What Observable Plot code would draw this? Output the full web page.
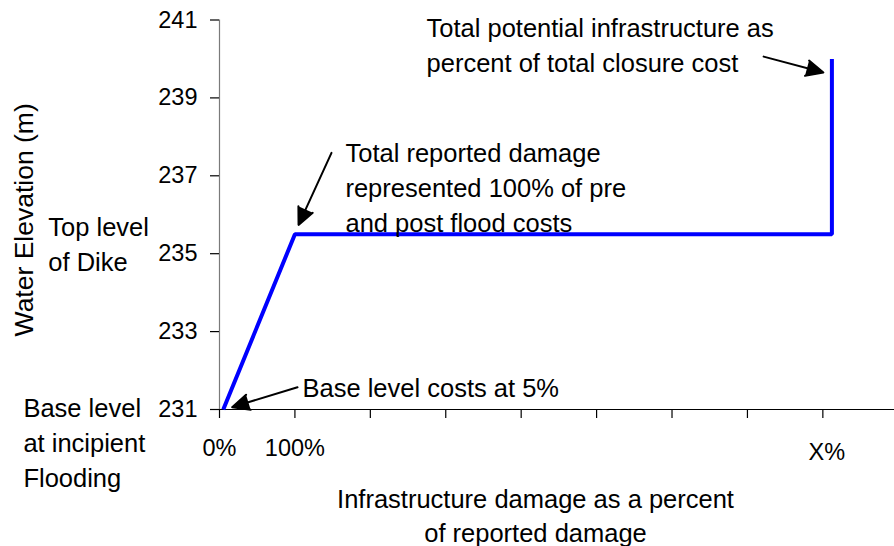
<!DOCTYPE html>
<html>
<head>
<meta charset="utf-8">
<script src="https://cdn.jsdelivr.net/npm/d3@7"></script>
<script src="https://cdn.jsdelivr.net/npm/@observablehq/plot@0.6"></script>
<style>
  html, body { margin: 0; padding: 0; background: #fff; }
  #chart svg { display: block; }
</style>
</head>
<body>
<div id="chart"></div>
<script>
// Series: infrastructure damage (% of reported damage) vs water elevation (m)
const damagePct = [5, 100, 812, 812];
const elevation = [231, 235.5, 235.5, 240];

// Axis ticks
const xTickValues = [0, 100, 200, 300, 400, 500, 600, 700, 800];
const xTickLabelValues = [0, 100];
const xTickLabels = ["0%", "100%"];
const xEndLabelValue = [800];
const xEndLabel = ["X%"];
const yTickValues = [231, 233, 235, 237, 239, 241];

// Titles
const xTitle = "Infrastructure damage as a percent\nof reported damage";
const yTitle = "Water Elevation (m)";

// Annotations (anchored in data units)
const noteText = [
  "Total potential infrastructure as\npercent of total closure cost",
  "Total reported damage\nrepresented 100% of pre\nand post flood costs",
  "Base level costs at 5%",
  "Top level\nof Dike",
  "Base level\nat incipient\nFlooding"
];
const noteX = [274.5, 167, 110, -227, -260];
const noteY = [240.4, 236.74, 231.6, 235.3, 230.2];

// Arrows (from text to curve)
const arrowX1 = [721.5, 148.5, 103.4];
const arrowY1 = [240.06, 237.59, 231.57];
const arrowX2 = [800.7, 104.8, 16.8];
const arrowY2 = [239.65, 235.74, 231.06];

const series = damagePct.map((x, i) => ({x, y: elevation[i]}));
const notes = noteText.map((t, i) => ({t, x: noteX[i], y: noteY[i]}));
const arrows = arrowX1.map((x1, i) => ({x1, y1: arrowY1[i], x2: arrowX2[i], y2: arrowY2[i]}));
const xLabels = xTickLabelValues.map((v, i) => ({x: v, t: xTickLabels[i]}));
const xEnd = xEndLabelValue.map((v, i) => ({x: v, t: xEndLabel[i]}));

const FONT = "'Liberation Sans', Arial, Helvetica, sans-serif";

const chart = Plot.plot({
  width: 894,
  height: 546,
  marginLeft: 219,
  marginRight: 0,
  marginTop: 19.5,
  marginBottom: 137,
  style: {fontFamily: FONT, fontSize: "23.5px", background: "#fff", color: "#000", overflow: "visible"},
  x: {domain: [0, 895], axis: null},
  y: {domain: [231, 241], axis: null},
  marks: [
    Plot.ruleX([0], {y1: 231, y2: 241, stroke: "#7a7a7a", strokeWidth: 1.2}),
    Plot.ruleY([231], {stroke: "#000", strokeWidth: 1.2}),
    Plot.axisY(yTickValues, {tickSize: 9, tickPadding: 13, fontSize: 23.5, strokeWidth: 1.2}),
    Plot.axisX(xTickValues, {tickSize: 9, tickFormat: () => "", strokeWidth: 1.2}),
    Plot.text(xLabels, {x: "x", y: () => 231, text: "t", dy: 39, lineAnchor: "middle", fontSize: 23.5}),
    Plot.text(xEnd, {x: "x", y: () => 231, text: "t", dy: 43, dx: 4, lineAnchor: "middle", fontSize: 23.5}),
    Plot.line(series, {x: "x", y: "y", stroke: "#0000ff", strokeWidth: 4, strokeLinejoin: "miter", strokeLinecap: "butt"}),
    Plot.arrow(arrows, {x1: "x1", y1: "y1", x2: "x2", y2: "y2", stroke: "#000", fill: "#000", strokeWidth: 2, headLength: 14, headAngle: 50}),
    Plot.text(notes, {x: "x", y: "y", text: "t", textAnchor: "start", lineAnchor: "middle", fontSize: 25.5, lineHeight: 1.38}),
    Plot.text([xTitle], {x: () => 419, y: () => 228.31, text: d => d, textAnchor: "middle", lineAnchor: "middle", fontSize: 25.5, lineHeight: 1.34}),
    Plot.text([yTitle], {x: () => -258.6, y: () => 235.87, text: d => d, rotate: -90, textAnchor: "middle", lineAnchor: "middle", fontSize: 26.5})
  ]
});
document.getElementById("chart").appendChild(chart);
</script>
</body>
</html>
